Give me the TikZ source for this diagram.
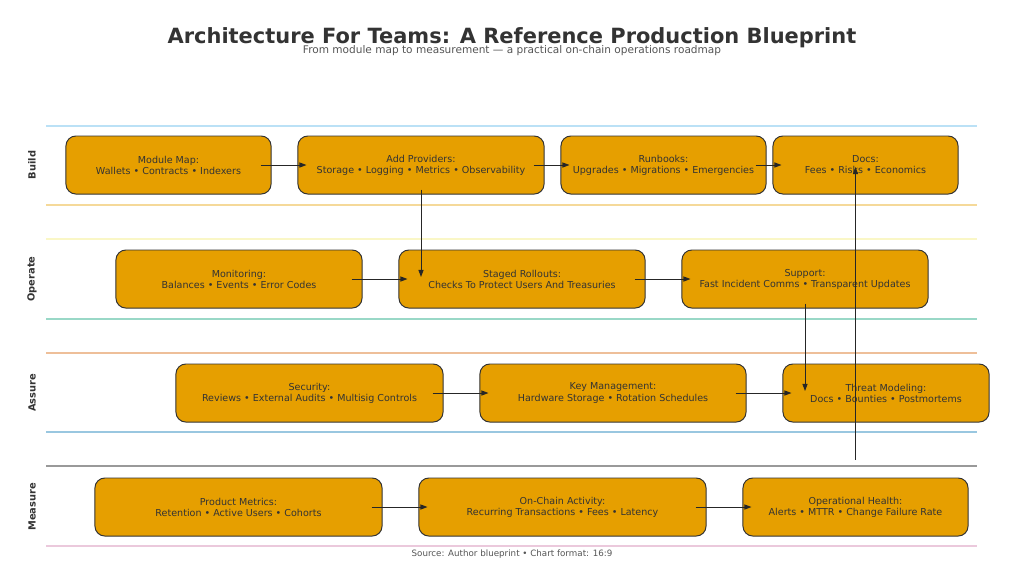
\documentclass[tikz,border=0pt]{standalone}
\usepackage{fontspec}
\setmainfont{DejaVu Sans}
\usepackage{xcolor}
\definecolor{naranjaCaja}{HTML}{E69F00}
\definecolor{tinta}{HTML}{333333}
\definecolor{tintaSuave}{HTML}{555555}
\definecolor{laneSky}{HTML}{56B4E9}
\definecolor{laneOrange}{HTML}{E69F00}
\definecolor{laneYellow}{HTML}{F0E442}
\definecolor{laneGreen}{HTML}{009E73}
\definecolor{laneVerm}{HTML}{D55E00}
\definecolor{laneBlue}{HTML}{0072B2}
\definecolor{lanePink}{HTML}{CC79A7}
\usetikzlibrary{arrows.meta, positioning, calc}

\begin{document}
\begin{tikzpicture}[x=0.025cm, y=-0.025cm,
  box/.style={rectangle, draw=tinta, fill=naranjaCaja, rounded corners=7pt,
              line width=0.7pt, align=center, text=tinta,
              font=\fontsize{6.8}{7.9}\selectfont, minimum height=1.45cm},
  arr/.style={-{Stealth[length=5pt, width=3.6pt, inset=0pt]}, line width=0.6pt, color=black!85},
  lane/.style={line width=1.3pt, draw opacity=0.4},
  lanelabel/.style={rotate=90, font=\bfseries\fontsize{7}{8}\selectfont, text=tinta}
]
  \useasboundingbox (0,0) rectangle (1024,581);

  % titulos
  \node[font=\bfseries\fontsize{14.9}{16}\selectfont, text=tinta] (title) at (512,38)
    {Architecture For Teams: A Reference Production Blueprint};
  \node[font=\fontsize{7.5}{9}\selectfont, text=tintaSuave] (subtitle) at (512,51)
    {From module map to measurement — a practical on-chain operations roadmap};

  % carriles
  \draw[lane, laneSky]    (46,126) -- (977,126);
  \draw[lane, laneOrange] (46,205) -- (977,205);
  \draw[lane, laneYellow, draw opacity=0.3] (46,239) -- (977,239);
  \draw[lane, laneGreen]  (46,319) -- (977,319);
  \draw[lane, laneVerm]   (46,353) -- (977,353);
  \draw[lane, laneBlue]   (46,432) -- (977,432);
  \draw[lane, black]      (46,466) -- (977,466);
  \draw[lane, lanePink]   (46,546) -- (977,546);

  \node[lanelabel] (lbuild)   at (32,165) {Build};
  \node[lanelabel] (loperate) at (32,279) {Operate};
  \node[lanelabel] (lassure)  at (32,393) {Assure};
  \node[lanelabel] (lmeasure) at (32,507) {Measure};

  % Build
  \node[box, minimum width=5.125cm] (modmap) at (168.5,165) {Module Map:\\Wallets • Contracts • Indexers};
  \node[box, minimum width=6.15cm]  (provid) at (421,165)   {Add Providers:\\Storage • Logging • Metrics • Observability};
  \node[box, minimum width=5.125cm] (runbk)  at (663.5,165) {Runbooks:\\Upgrades • Migrations • Emergencies};
  \node[box, minimum width=4.625cm] (docs)   at (865.5,165) {Docs:\\Fees • Risks • Economics};

  % Operate
  \node[box, minimum width=6.15cm] (monit)  at (239,279) {Monitoring:\\Balances • Events • Error Codes};
  \node[box, minimum width=6.15cm] (rollout) at (522,279) {Staged Rollouts:\\Checks To Protect Users And Treasuries};
  \node[box, minimum width=6.15cm] (support) at (805,279) {Support:\\Fast Incident Comms • Transparent Updates};

  % Assure
  \node[box, minimum width=6.675cm] (secur)  at (309.5,393) {Security:\\Reviews • External Audits • Multisig Controls};
  \node[box, minimum width=6.65cm]  (keymgmt) at (613,393)  {Key Management:\\Hardware Storage • Rotation Schedules};
  \node[box, minimum width=5.15cm]  (threat) at (886,393)   {Threat Modeling:\\Docs • Bounties • Postmortems};

  % Measure
  \node[box, minimum width=7.175cm] (prodm)  at (238.5,507) {Product Metrics:\\Retention • Active Users • Cohorts};
  \node[box, minimum width=7.175cm] (chain)  at (562.5,507) {On-Chain Activity:\\Recurring Transactions • Fees • Latency};
  \node[box, minimum width=5.625cm] (health) at (855.5,507) {Operational Health:\\Alerts • MTTR • Change Failure Rate};

  % flechas
  \foreach \a/\b in {modmap/provid, provid/runbk, runbk/docs, monit/rollout, rollout/support,
                     secur/keymgmt, keymgmt/threat, prodm/chain, chain/health}
    \draw[arr, shorten <=-0.275cm, shorten >=-0.225cm] (\a.east) -- (\b.west);

  \draw[arr, shorten <=-0.125cm, shorten >=0.05cm] (provid.south) -- (provid.south |- rollout.center);
  \draw[arr, shorten <=-0.125cm, shorten >=0.05cm] (support.south) -- (support.south |- threat.center);
  \draw[arr, shorten <=0.45cm, shorten >=0.05cm] (health.north) -- (health.north |- docs.center);

  \node[font=\fontsize{6.2}{7}\selectfont, text=tintaSuave] (source) at (512,554)
    {Source: Author blueprint • Chart format: 16:9};
\end{tikzpicture}
\end{document}
